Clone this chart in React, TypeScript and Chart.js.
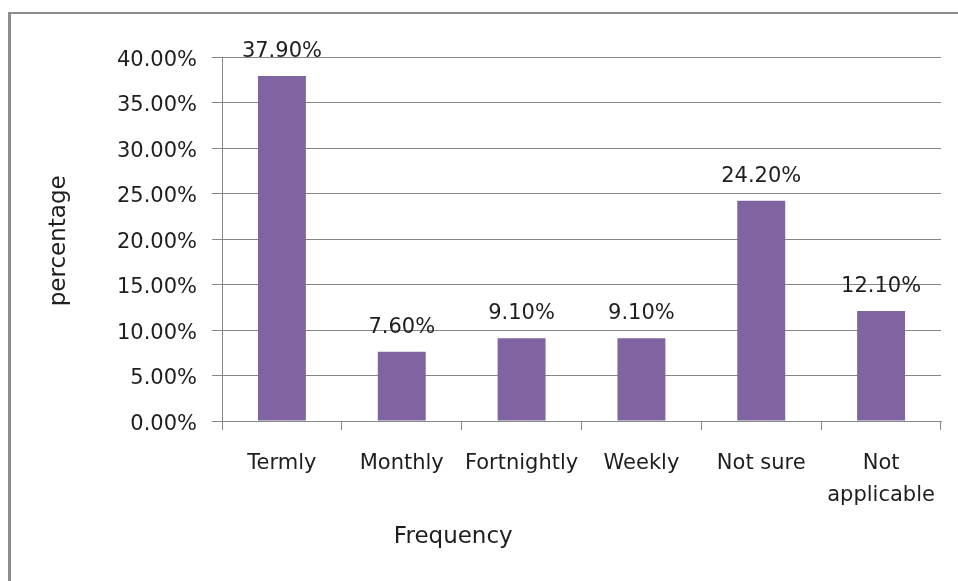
import React, { useEffect, useRef } from "react";
import { Chart, registerables } from "chart.js";

Chart.register(...registerables);

const categories: (string | string[])[] = ["Termly", "Monthly", "Fortnightly", "Weekly", "Not sure", ["Not", "applicable"]];
const values: number[] = [37.9, 7.6, 9.1, 9.1, 24.2, 12.1];
const yTitle = "percentage";
const xTitle = "Frequency";

const FONT = "'DejaVu Sans', sans-serif";
const TEXT = "#1e1e1e";
const GRID = "#868686";

const labelsPlugin = {
  id: "customLabels",
  afterDatasetsDraw(chart: any) {
    const ctx = chart.ctx;
    const meta = chart.getDatasetMeta(0);
    ctx.save();
    ctx.font = `21px ${FONT}`;
    ctx.fillStyle = TEXT;
    ctx.textAlign = "center";
    ctx.textBaseline = "alphabetic";
    meta.data.forEach((bar: any, i: number) => {
      ctx.fillText(values[i].toFixed(2) + "%", bar.x, bar.y - 19);
    });
    // axis titles
    ctx.font = `23px ${FONT}`;
    ctx.textBaseline = "middle";
    const xs = chart.scales.x;
    const catW = (xs.right - xs.left) / categories.length;
    ctx.fillText(xTitle, xs.left + catW * 1.93, 537);
    ctx.translate(59, chart.scales.y.getPixelForValue(19.8));
    ctx.rotate(-Math.PI / 2);
    ctx.fillText(yTitle, 0, 0);
    ctx.restore();
  },
};

export default function App() {
  const ref = useRef<HTMLCanvasElement>(null);
  useEffect(() => {
    if (!ref.current) return;
    const chart = new Chart(ref.current, {
      type: "bar",
      data: {
        labels: categories,
        datasets: [
          {
            data: values,
            backgroundColor: "#8064A2",
            barPercentage: 0.4,
            categoryPercentage: 1,
          },
        ],
      },
      options: {
        responsive: false,
        animation: false,
        layout: { padding: { left: 0, right: 17, top: 57, bottom: 0 } },
        plugins: { legend: { display: false }, tooltip: { enabled: false } },
        scales: {
          x: {
            grid: {
              display: true,
              drawOnChartArea: false,
              drawTicks: true,
              tickLength: 9,
              color: GRID,
              offset: true,
            },
            border: { display: true, color: GRID },
            ticks: {
              font: { family: FONT, size: 21, lineHeight: 1.52 },
              color: TEXT,
              padding: 18,
              maxRotation: 0,
              autoSkip: false,
            },
            afterFit(scale: any) {
              scale.height = 160;
            },
          },
          y: {
            min: 0,
            max: 40,
            grid: { color: GRID, tickLength: 10, drawTicks: true },
            border: { display: true, color: GRID },
            ticks: {
              stepSize: 5,
              font: { family: FONT, size: 21, lineHeight: 0.3 },
              color: TEXT,
              padding: 15,
              callback: (v: any) => ["", Number(v).toFixed(2) + "%"],
            },
            afterFit(scale: any) {
              scale.width = 222;
            },
          },
        },
      },
      plugins: [labelsPlugin],
    });
    return () => chart.destroy();
  }, []);

  return (
    <div style={{ position: "fixed", left: 0, top: 0, width: 958, height: 581, overflow: "hidden", background: "#fff" }}>
      <div
        style={{
          position: "absolute",
          left: 8,
          top: 12,
          width: 2000,
          height: 2000,
          borderLeft: "3px solid #8c8c8c",
          borderTop: "2px solid #8c8c8c",
        }}
      />
      <canvas ref={ref} width={958} height={581} style={{ position: "absolute", left: 0, top: 0, width: 958, height: 581 }} />
    </div>
  );
}
